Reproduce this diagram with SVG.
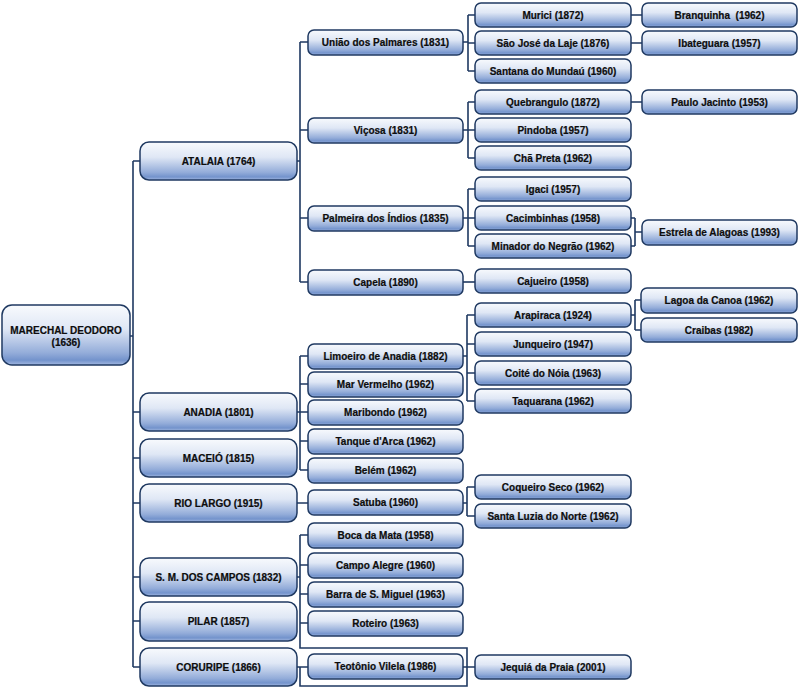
<svg xmlns="http://www.w3.org/2000/svg" width="799" height="688" viewBox="0 0 799 688">
<defs>
<linearGradient id="g" x1="0" y1="0" x2="0" y2="1">
<stop offset="0" stop-color="#f8fafd"/>
<stop offset="0.4" stop-color="#dfe7f5"/>
<stop offset="0.8" stop-color="#93acd9"/>
<stop offset="0.92" stop-color="#7393cc"/>
<stop offset="1" stop-color="#a3b8e0"/>
</linearGradient>
<style>
.b{fill:url(#g);stroke:#1f3961;stroke-width:1.5}
.t{font-family:"Liberation Sans",Arial,sans-serif;font-weight:bold;font-size:10px;fill:#0d0d0d;stroke:#0d0d0d;stroke-width:0.2;text-anchor:middle}
.c{fill:none;stroke:#1f3961;stroke-width:1.6}
</style>
</defs>
<rect width="799" height="688" fill="#ffffff"/>
<g id="connectors" class="c">
<path d="M130,336H133M133,161V667M133,161H140M133,412H140M133,458H140M133,503H140M133,577H140M133,621H140M133,667H140"/>
<path d="M297,161H300M300,42V282M300,42H308M300,130H308M300,218H308M300,282H308"/>
<path d="M463,42H468M468,15V71M468,15H475M468,43H475M468,71H475"/>
<path d="M631,15H642M631,43H642M631,102H642"/>
<path d="M463,130H468M468,102V158M468,102H475M468,130H475M468,158H475"/>
<path d="M463,218H468M468,189V246M468,189H475M468,218H475M468,246H475"/>
<path d="M631,218H635M631,246H635M635,218V246M635,232H642"/>
<path d="M463,282H475"/>
<path d="M297,412H300M300,356V470M300,356H308M300,384H308M300,412H308M300,441H308M300,470H308"/>
<path d="M463,356H467M467,315V401M467,315H475M467,344H475M467,373H475M467,401H475"/>
<path d="M631,315H635M635,300V330M635,300H641M635,330H641"/>
<path d="M297,503H308M463,503H467M467,487V516M467,487H475M467,516H475"/>
<path d="M297,577H300M300,535V648H467V686H300V667M300,535H308M300,565H308M300,594H308M300,623H308"/>
<path d="M297,667H308M463,667H475"/>
</g>
<g id="n-marechal"><rect class="b" x="2" y="305" width="128" height="60" rx="10"/><text class="t" x="66" y="334">MARECHAL DEODORO</text><text class="t" x="66" y="346">(1636)</text></g>
<g id="n-atalaia"><rect class="b" x="140" y="142" width="157" height="38" rx="9"/><text class="t" x="218.5" y="164.5">ATALAIA (1764)</text></g>
<g id="n-anadia"><rect class="b" x="140" y="393" width="157" height="38" rx="9"/><text class="t" x="218.5" y="415.5">ANADIA (1801)</text></g>
<g id="n-maceio"><rect class="b" x="140" y="439" width="157" height="38" rx="9"/><text class="t" x="218.5" y="461.5">MACEIÓ (1815)</text></g>
<g id="n-riolargo"><rect class="b" x="140" y="484" width="157" height="38" rx="9"/><text class="t" x="218.5" y="506.5">RIO LARGO (1915)</text></g>
<g id="n-smcampos"><rect class="b" x="140" y="558" width="157" height="38" rx="9"/><text class="t" x="218.5" y="580.5">S. M. DOS CAMPOS (1832)</text></g>
<g id="n-pilar"><rect class="b" x="140" y="602" width="157" height="39" rx="9"/><text class="t" x="218.5" y="625">PILAR (1857)</text></g>
<g id="n-coruripe"><rect class="b" x="140" y="648" width="157" height="38" rx="9"/><text class="t" x="218.5" y="670.5">CORURIPE (1866)</text></g>
<g id="n-uniao"><rect class="b" x="308" y="30" width="155" height="25" rx="6"/><text class="t" x="385.5" y="46">União dos Palmares (1831)</text></g>
<g id="n-vicosa"><rect class="b" x="308" y="118" width="155" height="25" rx="6"/><text class="t" x="385.5" y="134">Viçosa (1831)</text></g>
<g id="n-palmeira"><rect class="b" x="308" y="206" width="155" height="25" rx="6"/><text class="t" x="385.5" y="222">Palmeira dos Índios (1835)</text></g>
<g id="n-capela"><rect class="b" x="308" y="270" width="155" height="25" rx="6"/><text class="t" x="385.5" y="286">Capela (1890)</text></g>
<g id="n-limoeiro"><rect class="b" x="308" y="344" width="155" height="25" rx="6"/><text class="t" x="385.5" y="360">Limoeiro de Anadia (1882)</text></g>
<g id="n-marvermelho"><rect class="b" x="308" y="372" width="155" height="25" rx="6"/><text class="t" x="385.5" y="388">Mar Vermelho (1962)</text></g>
<g id="n-maribondo"><rect class="b" x="308" y="400" width="155" height="25" rx="6"/><text class="t" x="385.5" y="416">Maribondo (1962)</text></g>
<g id="n-tanque"><rect class="b" x="308" y="429" width="155" height="25" rx="6"/><text class="t" x="385.5" y="445">Tanque d'Arca (1962)</text></g>
<g id="n-belem"><rect class="b" x="308" y="458" width="155" height="25" rx="6"/><text class="t" x="385.5" y="474">Belém (1962)</text></g>
<g id="n-satuba"><rect class="b" x="308" y="490" width="155" height="25" rx="6"/><text class="t" x="385.5" y="506">Satuba (1960)</text></g>
<g id="n-bocadamata"><rect class="b" x="308" y="523" width="155" height="25" rx="6"/><text class="t" x="385.5" y="539">Boca da Mata (1958)</text></g>
<g id="n-campoalegre"><rect class="b" x="308" y="553" width="155" height="25" rx="6"/><text class="t" x="385.5" y="569">Campo Alegre (1960)</text></g>
<g id="n-barra"><rect class="b" x="308" y="582" width="155" height="25" rx="6"/><text class="t" x="385.5" y="598">Barra de S. Miguel (1963)</text></g>
<g id="n-roteiro"><rect class="b" x="308" y="611" width="155" height="25" rx="6"/><text class="t" x="385.5" y="627">Roteiro (1963)</text></g>
<g id="n-teotonio"><rect class="b" x="308" y="654" width="155" height="25" rx="6"/><text class="t" x="385.5" y="670">Teotônio Vilela (1986)</text></g>
<g id="n-murici"><rect class="b" x="475" y="3" width="156" height="24" rx="6"/><text class="t" x="553" y="18.5">Murici (1872)</text></g>
<g id="n-saojose"><rect class="b" x="475" y="31" width="156" height="24" rx="6"/><text class="t" x="553" y="46.5">São José da Laje (1876)</text></g>
<g id="n-santana"><rect class="b" x="475" y="59" width="156" height="24" rx="6"/><text class="t" x="553" y="74.5">Santana do Mundaú (1960)</text></g>
<g id="n-quebrangulo"><rect class="b" x="475" y="90" width="156" height="24" rx="6"/><text class="t" x="553" y="105.5">Quebrangulo (1872)</text></g>
<g id="n-pindoba"><rect class="b" x="475" y="118" width="156" height="24" rx="6"/><text class="t" x="553" y="133.5">Pindoba (1957)</text></g>
<g id="n-chapreta"><rect class="b" x="475" y="146" width="156" height="24" rx="6"/><text class="t" x="553" y="161.5">Chã Preta (1962)</text></g>
<g id="n-igaci"><rect class="b" x="475" y="177" width="156" height="24" rx="6"/><text class="t" x="553" y="192.5">Igaci (1957)</text></g>
<g id="n-cacimbinhas"><rect class="b" x="475" y="206" width="156" height="24" rx="6"/><text class="t" x="553" y="221.5">Cacimbinhas (1958)</text></g>
<g id="n-minador"><rect class="b" x="475" y="234" width="156" height="24" rx="6"/><text class="t" x="553" y="249.5">Minador do Negrão (1962)</text></g>
<g id="n-cajueiro"><rect class="b" x="475" y="269" width="156" height="24" rx="6"/><text class="t" x="553" y="284.5">Cajueiro (1958)</text></g>
<g id="n-arapiraca"><rect class="b" x="475" y="303" width="156" height="24" rx="6"/><text class="t" x="553" y="318.5">Arapiraca (1924)</text></g>
<g id="n-junqueiro"><rect class="b" x="475" y="332" width="156" height="24" rx="6"/><text class="t" x="553" y="347.5">Junqueiro (1947)</text></g>
<g id="n-coite"><rect class="b" x="475" y="361" width="156" height="24" rx="6"/><text class="t" x="553" y="376.5">Coité do Nóia (1963)</text></g>
<g id="n-taquarana"><rect class="b" x="475" y="389" width="156" height="24" rx="6"/><text class="t" x="553" y="404.5">Taquarana (1962)</text></g>
<g id="n-coqueiro"><rect class="b" x="475" y="475" width="156" height="24" rx="6"/><text class="t" x="553" y="490.5">Coqueiro Seco (1962)</text></g>
<g id="n-santaluzia"><rect class="b" x="475" y="504" width="156" height="24" rx="6"/><text class="t" x="553" y="519.5">Santa Luzia do Norte (1962)</text></g>
<g id="n-jequia"><rect class="b" x="475" y="655" width="156" height="24" rx="6"/><text class="t" x="553" y="670.5">Jequiá da Praia (2001)</text></g>
<g id="n-branquinha"><rect class="b" x="642" y="3" width="155" height="24" rx="6"/><text class="t" x="719.5" y="18.5" style="white-space:pre">Branquinha  (1962)</text></g>
<g id="n-ibateguara"><rect class="b" x="642" y="31" width="155" height="24" rx="6"/><text class="t" x="719.5" y="46.5">Ibateguara (1957)</text></g>
<g id="n-paulojacinto"><rect class="b" x="642" y="90" width="155" height="24" rx="6"/><text class="t" x="719.5" y="105.5">Paulo Jacinto (1953)</text></g>
<g id="n-estrela"><rect class="b" x="642" y="220" width="155" height="25" rx="6"/><text class="t" x="719.5" y="236">Estrela de Alagoas (1993)</text></g>
<g id="n-lagoa"><rect class="b" x="641" y="288" width="156" height="25" rx="6"/><text class="t" x="719" y="304">Lagoa da Canoa (1962)</text></g>
<g id="n-craibas"><rect class="b" x="641" y="318" width="156" height="24" rx="6"/><text class="t" x="719" y="333.5">Craibas (1982)</text></g>
</svg>
